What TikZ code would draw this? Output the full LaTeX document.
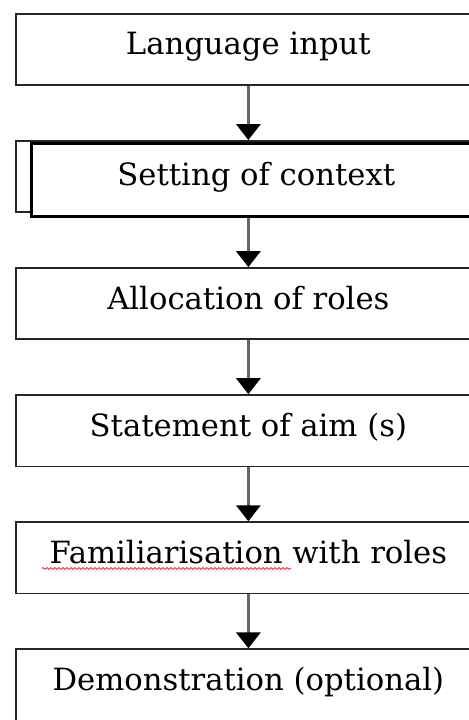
\documentclass[tikz,border=0pt]{standalone}
\usepackage{fontspec}
\setmainfont{DejaVu Serif}
\usepackage{tikz}
\usetikzlibrary{arrows.meta,positioning,decorations.pathmorphing}

\begin{document}
\begin{tikzpicture}[
    >=Stealth,
    font=\fontsize{23}{27}\selectfont,
    box/.style={draw=black!85, line width=1.3pt, fill=white,
      minimum width=348.75pt, minimum height=53.5pt, inner sep=2pt,
      text height=16pt, text depth=8pt},
    overlay box/.style={box, draw=black, line width=1.9pt,
      minimum width=337.5pt, minimum height=55pt},
    flow/.style={draw=black!60, line width=2.6pt,
      -{Triangle[width=18pt,length=12pt,color=black]}},
    spell/.style={draw=red!85, line width=0.6pt,
      decorate, decoration={snake, amplitude=0.7pt, segment length=3pt}},
  ]
  \useasboundingbox (0,0) rectangle (351pt,-540pt);

  % Steps
  \node[box, anchor=north west] (input) at (11.25pt,-9.75pt) {Language input};
  \node[box, below=40.5pt of input] (setting) {};
  \node[overlay box, below right=1.5pt and 11.25pt of setting.north west]
    (settingtop) {Setting of context};
  \node[box, below=40.5pt of setting] (roles) {Allocation of roles};
  \node[box, below=40.5pt of roles] (aims) {Statement of aim (s)};
  \node[box, below=40.5pt of aims] (famil) {Familiarisation with roles};
  \node[box, below=40.5pt of famil] (demo) {Demonstration (optional)};

  % Spell-check mark
  \draw[spell] ([xshift=-155pt, yshift=-4pt]famil.base) -- ++(187pt,0);

  % Edges
  \draw[flow] (input) -- (setting);
  \draw[flow] (settingtop.south -| roles.north) -- (roles);
  \draw[flow] (roles) -- (aims);
  \draw[flow] (aims) -- (famil);
  \draw[flow] (famil) -- (demo);
\end{tikzpicture}
\end{document}
